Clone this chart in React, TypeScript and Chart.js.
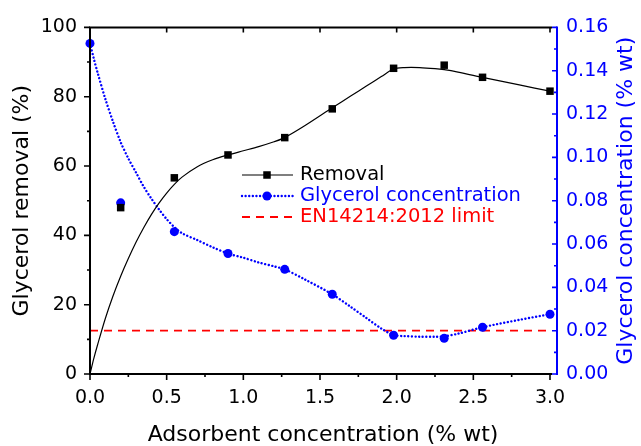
import React, { useEffect, useRef } from "react";
import { Chart, registerables } from "chart.js";

Chart.register(...registerables);

// measured samples
const xSamples = [0, 0.2, 0.55, 0.9, 1.27, 1.58, 1.98, 2.31, 2.56, 3.0];
const removalSamples = [null, 48.0, 56.6, 63.2, 68.2, 76.5, 88.2, 89.1, 85.6, 81.6];
const concSamples = [0.1526, 0.079, 0.0657, 0.0556, 0.0483, 0.0368, 0.0179, 0.0165, 0.0216, 0.0276];

// fitted curves
const fitX = [0, 0.025, 0.05, 0.1, 0.15, 0.2, 0.25, 0.3, 0.35, 0.4, 0.45, 0.5, 0.55, 0.6, 0.7, 0.8, 0.9, 1.0, 1.1, 1.2, 1.27, 1.4, 1.58, 1.7, 1.8, 1.9, 1.98, 2.05, 2.15, 2.25, 2.31, 2.4, 2.56, 2.8, 3.0];
const removalFit = [0, 4.5, 8.5, 16, 22.5, 28.2, 33.3, 38, 42.2, 46, 49.3, 52.2, 54.7, 56.8, 59.8, 61.8, 63.2, 64.4, 65.6, 67.0, 68.2, 71.6, 76.8, 80.2, 83.0, 85.8, 88.0, 88.4, 88.4, 88.1, 87.8, 87.1, 85.6, 83.4, 81.6];
const concFit = [0.1526, 0.1455, 0.139, 0.127, 0.1165, 0.107, 0.0995, 0.093, 0.0865, 0.081, 0.076, 0.0715, 0.0678, 0.065, 0.0618, 0.0585, 0.0556, 0.0537, 0.0515, 0.0497, 0.0483, 0.0437, 0.0368, 0.031, 0.026, 0.021, 0.018, 0.0175, 0.0172, 0.0172, 0.0174, 0.0186, 0.0216, 0.025, 0.0276];

const limitX = [0, 3.0];
const limitValue = [0.02, 0.02];

const xTicks = { min: 0, max: 3, step: 0.5 };
const yTicks = { min: 0, max: 100, step: 20 };
const y2Ticks = { min: 0, max: 0.16, step: 0.02 };

const legendLabels = ["Removal", "Glycerol concentration", "EN14214:2012 limit"];
const xTitle = "Adsorbent concentration (% wt)";
const yTitle = "Glycerol removal (%)";
const y2Title = "Glycerol concentration (% wt)";

const BLUE = "#0000ff";
const RED = "#ff0000";
const FONT = "'DejaVu Sans', 'Liberation Sans', Arial, sans-serif";

const axesPlugin = {
  id: "axesPlugin",
  afterDraw(chart: any) {
    const { ctx, chartArea: ca, scales } = chart;
    const xs = scales.x, ys = scales.y, y2s = scales.y2;
    const rightAxisX = ca.right + 7;
    ctx.save();
    // black frame (left, bottom, top)
    ctx.strokeStyle = "#000";
    ctx.lineWidth = 2;
    ctx.beginPath();
    ctx.moveTo(ca.left, ca.top - 1);
    ctx.lineTo(ca.left, ca.bottom + 1);
    ctx.moveTo(ca.left - 1, ca.bottom);
    ctx.lineTo(ca.right + 2, ca.bottom);
    ctx.moveTo(ca.left - 1, ca.top);
    ctx.lineTo(ca.right + 2, ca.top);
    ctx.stroke();
    // x ticks
    ctx.lineWidth = 1.6;
    ctx.beginPath();
    for (let i = 0; i <= 12; i++) {
      const v = i * 0.25;
      const px = xs.getPixelForValue(v);
      const major = i % 2 === 0;
      ctx.moveTo(px, ca.bottom);
      ctx.lineTo(px, ca.bottom + (major ? 6 : 3));
      if (major) {
        ctx.moveTo(px, ca.top);
        ctx.lineTo(px, ca.top + 5);
      }
    }
    // left y ticks
    for (let i = 0; i <= 10; i++) {
      const py = ys.getPixelForValue(i * 10);
      const major = i % 2 === 0;
      ctx.moveTo(ca.left, py);
      ctx.lineTo(ca.left - (major ? 6 : 3), py);
    }
    ctx.stroke();
    // right blue axis
    ctx.strokeStyle = BLUE;
    ctx.lineWidth = 2;
    ctx.beginPath();
    ctx.moveTo(rightAxisX, ca.top - 1);
    ctx.lineTo(rightAxisX, ca.bottom + 1);
    ctx.stroke();
    ctx.lineWidth = 1.6;
    ctx.beginPath();
    for (let i = 0; i <= 16; i++) {
      const py = y2s.getPixelForValue(i * 0.01);
      const major = i % 2 === 0;
      ctx.moveTo(rightAxisX, py);
      ctx.lineTo(rightAxisX - (major ? 5 : 3), py);
    }
    ctx.stroke();

    // titles
    ctx.font = `22px ${FONT}`;
    ctx.textAlign = "center";
    ctx.textBaseline = "middle";
    ctx.fillStyle = "#000";
    ctx.fillText(xTitle, (ca.left + ca.right) / 2 + 3, 435);
    ctx.save();
    ctx.translate(22, (ca.top + ca.bottom) / 2);
    ctx.rotate(-Math.PI / 2);
    ctx.fillText(yTitle, 0, 0);
    ctx.restore();
    ctx.save();
    ctx.fillStyle = BLUE;
    ctx.translate(626, (ca.top + ca.bottom) / 2);
    ctx.rotate(-Math.PI / 2);
    ctx.fillText(y2Title, 0, 0);
    ctx.restore();

    // legend
    const lx0 = 242, lx1 = 293, mx = 267, tx = 300;
    const rows = [175, 196, 217];
    ctx.font = `19.5px ${FONT}`;
    ctx.textAlign = "left";
    // removal
    ctx.strokeStyle = "#000";
    ctx.lineWidth = 1.2;
    ctx.setLineDash([]);
    ctx.beginPath();
    ctx.moveTo(lx0, rows[0]);
    ctx.lineTo(lx1, rows[0]);
    ctx.stroke();
    ctx.fillStyle = "#000";
    ctx.fillRect(mx - 3.75, rows[0] - 3.75, 7.5, 7.5);
    ctx.fillText(legendLabels[0], tx, rows[0]);
    // conc
    ctx.strokeStyle = BLUE;
    ctx.lineWidth = 2.4;
    ctx.lineCap = "round";
    ctx.setLineDash([0.01, 3.6]);
    ctx.beginPath();
    ctx.moveTo(lx0, rows[1]);
    ctx.lineTo(lx1, rows[1]);
    ctx.stroke();
    ctx.setLineDash([]);
    ctx.lineCap = "butt";
    ctx.fillStyle = BLUE;
    ctx.beginPath();
    ctx.arc(mx, rows[1], 4.5, 0, Math.PI * 2);
    ctx.fill();
    ctx.fillText(legendLabels[1], tx, rows[1]);
    // limit
    ctx.strokeStyle = RED;
    ctx.lineWidth = 1.8;
    ctx.setLineDash([8, 6]);
    ctx.beginPath();
    ctx.moveTo(lx0, rows[2]);
    ctx.lineTo(lx1 + 4, rows[2]);
    ctx.stroke();
    ctx.setLineDash([]);
    ctx.fillStyle = RED;
    ctx.fillText(legendLabels[2], tx, rows[2]);
    ctx.restore();
  },
};

export default function App() {
  const ref = useRef<HTMLCanvasElement>(null);
  useEffect(() => {
    const removalPts = xSamples
      .map((x, i) => ({ x, y: removalSamples[i] }))
      .filter((p) => p.y !== null);
    const concPts = xSamples.map((x, i) => ({ x, y: concSamples[i] }));
    const remFitPts = fitX.map((x, i) => ({ x, y: removalFit[i] }));
    const concFitPts = fitX.map((x, i) => ({ x, y: concFit[i] }));
    const limitPts = limitX.map((x, i) => ({ x, y: limitValue[i] }));
    const tickFont = { family: FONT, size: 19 };
    const chart = new Chart(ref.current as HTMLCanvasElement, {
      type: "scatter",
      data: {
        datasets: [
          {
            label: "Removal points",
            data: removalPts as any,
            yAxisID: "y",
            showLine: false,
            pointStyle: "rect",
            pointRadius: 5.3,
            backgroundColor: "#000",
            borderColor: "#000",
            borderWidth: 0,
            clip: false as any,
          },
          {
            label: "Conc points",
            data: concPts,
            yAxisID: "y2",
            showLine: false,
            pointStyle: "circle",
            pointRadius: 4.5,
            backgroundColor: BLUE,
            borderColor: BLUE,
            borderWidth: 0,
            clip: false as any,
          },
          {
            label: "Removal fit",
            data: remFitPts,
            yAxisID: "y",
            showLine: true,
            pointRadius: 0,
            borderColor: "#000",
            borderWidth: 1.2,
            tension: 0.3,
          } as any,
          {
            label: "Conc fit",
            data: concFitPts,
            yAxisID: "y2",
            showLine: true,
            pointRadius: 0,
            borderColor: BLUE,
            borderWidth: 2.4,
            borderDash: [0.01, 3.6],
            borderCapStyle: "round",
            tension: 0.3,
          } as any,
          {
            label: "Limit",
            data: limitPts,
            yAxisID: "y2",
            showLine: true,
            pointRadius: 0,
            borderColor: RED,
            borderWidth: 1.8,
            borderDash: [8, 6],
          } as any,
        ],
      },
      options: {
        animation: false,
        responsive: false,
        maintainAspectRatio: false,
        layout: { padding: { top: 26, left: 0, right: 0, bottom: 0 } },
        plugins: { legend: { display: false }, tooltip: { enabled: false } },
        scales: {
          x: {
            type: "linear",
            position: "bottom",
            min: xTicks.min,
            max: xTicks.max,
            grid: { display: false, drawTicks: false, tickLength: 0 },
            border: { display: false },
            ticks: {
              stepSize: xTicks.step,
              autoSkip: false,
              maxRotation: 0,
              padding: 13,
              color: "#000",
              font: tickFont,
              callback: (v: any) => Number(v).toFixed(1),
            },
            afterFit: (s: any) => {
              s.height = 72;
            },
          },
          y: {
            type: "linear",
            position: "left",
            min: yTicks.min,
            max: yTicks.max,
            grid: { display: false, drawTicks: false, tickLength: 0 },
            border: { display: false },
            ticks: {
              stepSize: yTicks.step,
              autoSkip: false,
              padding: 13,
              color: "#000",
              font: tickFont,
              callback: (v: any) => String(Math.round(Number(v))),
            },
            afterFit: (s: any) => {
              s.width = 90;
            },
          },
          y2: {
            type: "linear",
            position: "right",
            min: y2Ticks.min,
            max: y2Ticks.max,
            grid: { display: false, drawTicks: false, tickLength: 0 },
            border: { display: false },
            ticks: {
              stepSize: y2Ticks.step,
              autoSkip: false,
              padding: 16,
              color: BLUE,
              font: tickFont,
              callback: (v: any) => Number(v).toFixed(2),
            },
            afterFit: (s: any) => {
              s.width = 91;
            },
          },
        },
      } as any,
      plugins: [axesPlugin],
    });
    return () => chart.destroy();
  }, []);
  return (
    <div style={{ position: "fixed", left: 0, top: 0, width: 641, height: 446, background: "#fff" }}>
      <canvas ref={ref} width={641} height={446} style={{ width: 641, height: 446, display: "block" }} />
    </div>
  );
}
